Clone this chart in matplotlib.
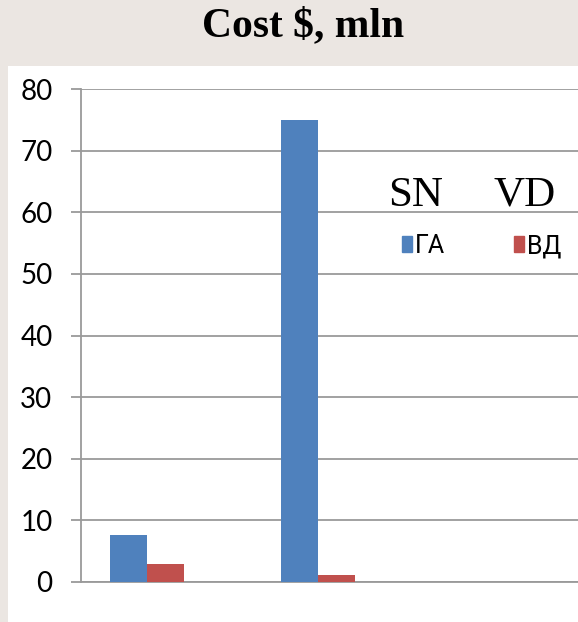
import matplotlib
matplotlib.use("Agg")
import matplotlib.pyplot as plt
from matplotlib.patches import Rectangle, Patch
import numpy as np

# data
groups = ["", ""]
ga_values = [7.6, 75.0]
vd_values = [2.9, 1.1]
series_names = ["ГА", "ВД"]
y_ticks = [0, 10, 20, 30, 40, 50, 60, 70, 80]

blue = "#4f81bd"
red = "#c0504d"
grid_col = "#9a9a9a"
band = "#ebe6e2"

W, H = 578, 622
fig = plt.figure(figsize=(W / 100, H / 100), dpi=100, facecolor=band)

# white panel under the chart
fig.patches.append(Rectangle((8 / W, 0), 1 - 8 / W, 1 - 66 / H,
                             transform=fig.transFigure, facecolor="white",
                             edgecolor="none", zorder=-5))

ax = fig.add_axes([80.5 / W, 40 / H, 1 - 80.5 / W, 493 / H])
ax.set_facecolor("none")
ax.set_zorder(2)

x = np.arange(len(groups))
w = 0.216
ax.bar(x - w / 2, ga_values, w, color=blue, zorder=3)
ax.bar(x + w / 2, vd_values, w, color=red, zorder=3)

ax.set_xlim(-0.389, 2.52)
ax.set_ylim(0, 80)
ax.set_yticks(y_ticks)
ax.set_xticks([])
ax.yaxis.grid(True, color=grid_col, linewidth=1.3, zorder=1)
ax.set_axisbelow(True)

for s in ["top", "right"]:
    ax.spines[s].set_visible(False)
ax.spines["left"].set_color(grid_col)
ax.spines["left"].set_linewidth(1.3)
ax.spines["bottom"].set_color(grid_col)
ax.spines["bottom"].set_linewidth(1.3)

ax.tick_params(axis="y", length=7.2, width=1.3, color=grid_col, pad=13,
               labelsize=20, labelcolor="black")
for lab in ax.get_yticklabels():
    lab.set_fontfamily("Lato")

# title in the band
fig.text(303 / W, 1 - 36 / H, "Cost $, mln", ha="center", va="baseline",
         fontsize=30, fontweight="bold", family="Liberation Serif")

# legend
handles = [Patch(color=blue), Patch(color=red)]
leg = fig.legend(handles, series_names, ncol=2, frameon=False,
                 loc="center left", bbox_to_anchor=(402 / W, 1 - 246 / H),
                 prop={"family": "Roboto", "size": 18}, borderpad=0,
                 borderaxespad=0, handlelength=0.38, handleheight=0.6,
                 handletextpad=0.15, columnspacing=2.75)
leg.set_zorder(5)

# overlay labels
fig.text(388 / W, 1 - 206 / H, "SN", ha="left", va="baseline",
         fontsize=31, family="Liberation Serif", zorder=5)
fig.text(493 / W, 1 - 206 / H, "VD", ha="left", va="baseline",
         fontsize=31, family="Liberation Serif", zorder=5)

fig.savefig("out.png", dpi=100, facecolor=band)
